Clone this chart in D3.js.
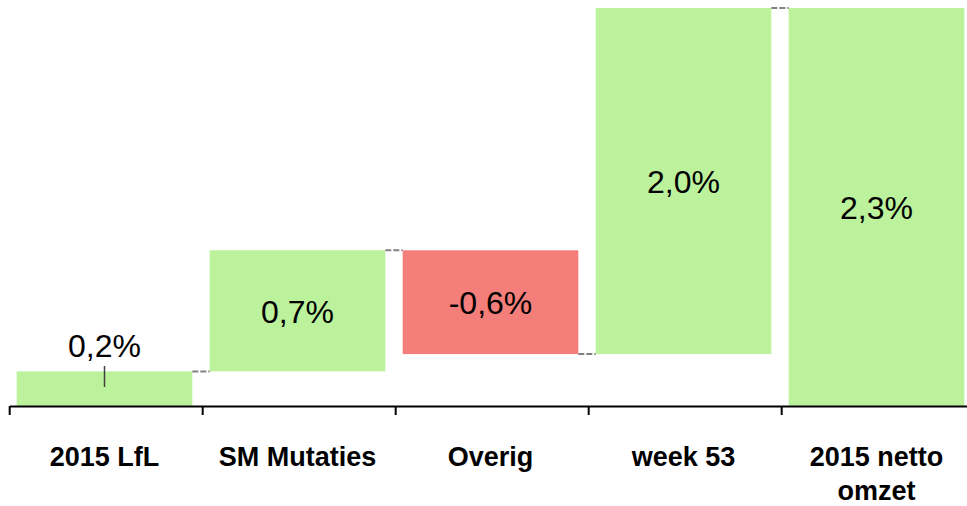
<!DOCTYPE html>
<html>
<head>
<meta charset="utf-8">
<script src="https://cdn.jsdelivr.net/npm/d3@7"></script>
<style>
  body { margin: 0; background: #fff; }
  text { font-family: "Liberation Sans", Arial, sans-serif; }
</style>
</head>
<body>
<div id="canvas"></div>
<script>
// chart data
const categories = ["2015 LfL", "SM Mutaties", "Overig", "week 53", "2015 netto omzet"];
const categoryLines = [["2015 LfL"], ["SM Mutaties"], ["Overig"], ["week 53"], ["2015 netto", "omzet"]];
const changes = [0.2, 0.7, -0.6, 2.0, 2.3];
const isTotal = [false, false, false, false, true];
const valueLabels = ["0,2%", "0,7%", "-0,6%", "2,0%", "2,3%"];

const width = 967, height = 506;
const baseY = 406;

// build start/end of each step
let running = 0;
const steps = categories.map((c, i) => {
    let start, end;
    if (isTotal[i]) {
        start = 0; end = changes[i];
    } else {
        start = running; end = running + changes[i];
        running = end;
    }
    return { cat: c, lines: categoryLines[i], start: start, end: end, value: changes[i], label: valueLabels[i] };
});

const svg = d3.select("#canvas")
    .append("svg")
    .attr("width", width)
    .attr("height", height);

const x = d3.scaleBand()
    .domain(categories)
    .range([8, 973])
    .paddingInner(0.09)
    .paddingOuter(0.045);

const y = d3.scaleLinear()
    .domain([0, 2.3])
    .range([baseY, 8]);

// tick sits 7px left of each bar
const edge = c => x(c) - 7;

// bars
svg.selectAll(".bar")
    .data(steps)
    .enter()
    .append("rect")
    .attr("class", "bar")
    .attr("x", d => x(d.cat))
    .attr("width", x.bandwidth())
    .attr("y", d => y(Math.max(d.start, d.end)))
    .attr("height", d => Math.abs(y(d.start) - y(d.end)))
    .attr("fill", d => d.value < 0 ? "#f47e7a" : "#bbf29b");

// dashed connectors
svg.selectAll(".conn")
    .data(steps.slice(0, -1))
    .enter()
    .append("line")
    .attr("class", "conn")
    .attr("x1", d => x(d.cat) + x.bandwidth())
    .attr("x2", (d, i) => x(steps[i + 1].cat))
    .attr("y1", d => y(d.end))
    .attr("y2", d => y(d.end))
    .attr("stroke", "#808080")
    .attr("stroke-width", 2)
    .attr("stroke-dasharray", "6,2");

// value labels (first one sits above its bar with a small leader)
svg.selectAll(".val")
    .data(steps)
    .enter()
    .append("text")
    .attr("class", "val")
    .attr("x", d => x(d.cat) + x.bandwidth() / 2)
    .attr("y", (d, i) => i === 0 ? 357 : (y(d.start) + y(d.end)) / 2 + 12)
    .attr("text-anchor", "middle")
    .attr("font-size", 32)
    .attr("fill", "#000")
    .text(d => d.label);

svg.append("line")
    .attr("x1", x(categories[0]) + x.bandwidth() / 2)
    .attr("x2", x(categories[0]) + x.bandwidth() / 2)
    .attr("y1", 366)
    .attr("y2", 387)
    .attr("stroke", "#404040")
    .attr("stroke-width", 1.5);

// axis line + ticks at band edges
const axis = svg.append("g");
axis.append("line")
    .attr("x1", 10).attr("x2", width)
    .attr("y1", baseY + 0.5).attr("y2", baseY + 0.5)
    .attr("stroke", "#000")
    .attr("stroke-width", 2);

axis.selectAll(".tick")
    .data(categories)
    .enter()
    .append("line")
    .attr("x1", d => edge(d))
    .attr("x2", d => edge(d))
    .attr("y1", baseY)
    .attr("y2", baseY + 9)
    .attr("stroke", "#000")
    .attr("stroke-width", 2);

// category labels
const catText = axis.selectAll(".cat")
    .data(steps)
    .enter()
    .append("text")
    .attr("class", "cat")
    .attr("x", d => x(d.cat) + x.bandwidth() / 2)
    .attr("y", 466)
    .attr("text-anchor", "middle")
    .attr("font-size", 27)
    .attr("font-weight", "bold")
    .attr("fill", "#000");

catText.selectAll("tspan")
    .data(d => d.lines.map(l => ({ line: l, cx: x(d.cat) + x.bandwidth() / 2 })))
    .enter()
    .append("tspan")
    .attr("x", t => t.cx)
    .attr("dy", (t, i) => i === 0 ? 0 : 34)
    .text(t => t.line);
</script>
</body>
</html>
